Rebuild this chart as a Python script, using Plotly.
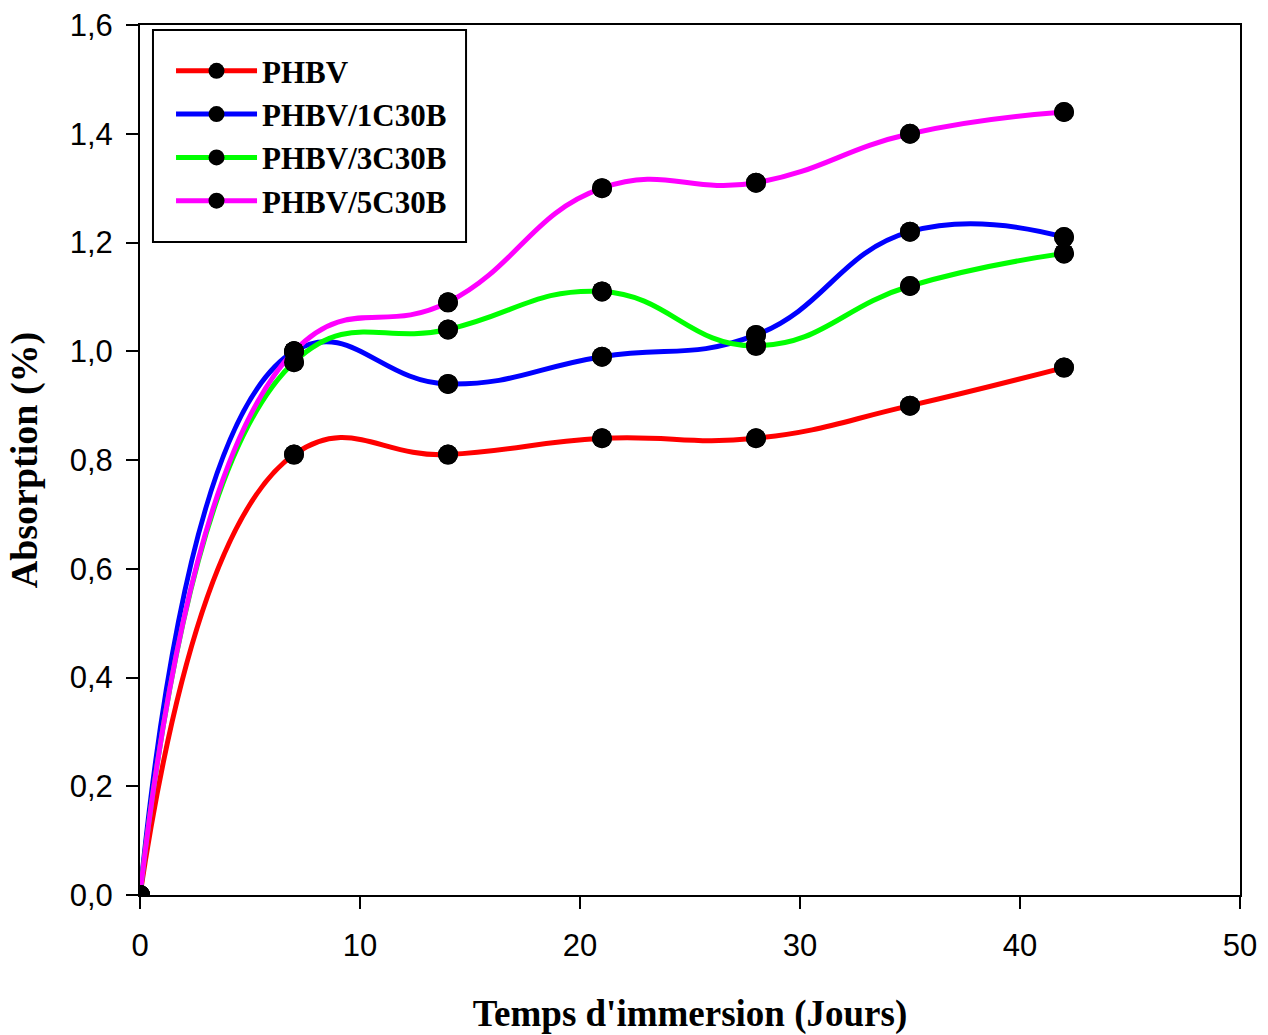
import plotly.graph_objects as go

days = [0, 7, 14, 21, 28, 35, 42]
phbv = [0.0, 0.81, 0.81, 0.84, 0.84, 0.90, 0.97]
phbv_1c30b = [0.0, 1.00, 0.94, 0.99, 1.03, 1.22, 1.21]
phbv_3c30b = [0.0, 0.98, 1.04, 1.11, 1.01, 1.12, 1.18]
phbv_5c30b = [0.0, 1.00, 1.09, 1.30, 1.31, 1.40, 1.44]

names = ["PHBV", "PHBV/1C30B", "PHBV/3C30B", "PHBV/5C30B"]
series = [phbv, phbv_1c30b, phbv_3c30b, phbv_5c30b]
colors = ["#ff0000", "#0000ff", "#00ff00", "#ff00ff"]

x_ticks = [0, 10, 20, 30, 40, 50]
y_ticks = [0.0, 0.2, 0.4, 0.6, 0.8, 1.0, 1.2, 1.4, 1.6]

fig = go.Figure()
for name, ys, c in zip(names, series, colors):
    fig.add_trace(go.Scatter(
        x=days, y=ys, name="<b>" + name + "</b>", mode="lines+markers",
        line=dict(color=c, width=5, shape="spline", smoothing=1.3),
        marker=dict(color="black", size=20),
    ))
for name, ys in zip(names, series):
    fig.add_trace(go.Scatter(
        x=days, y=ys, mode="markers", showlegend=False, hoverinfo="skip",
        marker=dict(color="black", size=20),
    ))

tickfont = dict(family="Liberation Sans, Arial, sans-serif", size=31, color="black")
titlefont = dict(family="Liberation Serif, Times New Roman, serif", size=37, color="black")

# legend frame
fig.add_shape(type="rect", xref="paper", yref="paper",
              x0=0.0118, x1=0.2964, y0=0.7506, y1=0.9943,
              line=dict(color="black", width=2), fillcolor="white", layer="above")

fig.update_layout(
    width=1268, height=1035,
    margin=dict(l=140, r=28, t=25, b=140),
    paper_bgcolor="white", plot_bgcolor="white",
    separators=", ",
    showlegend=True,
    legend=dict(
        x=0.0282, y=0.978, xanchor="left", yanchor="top",
        borderwidth=0, bgcolor="rgba(0,0,0,0)",
        font=dict(family="Liberation Serif, Times New Roman, serif", size=31, color="black"),
        tracegroupgap=0, itemwidth=81,
    ),
    xaxis=dict(
        range=[0, 50], tickvals=x_ticks, ticks="outside", ticklen=12, tickwidth=2,
        tickcolor="black", showline=True, linecolor="black", linewidth=2, mirror=True,
        showgrid=False, zeroline=False, tickfont=tickfont, ticklabelstandoff=10,
        automargin=False,
        title=dict(text="<b>Temps d'immersion (Jours)</b>", font=titlefont, standoff=40),
    ),
    yaxis=dict(
        range=[0, 1.6], tickvals=y_ticks, tickformat=".1f", ticks="outside", ticklen=12,
        tickwidth=2, tickcolor="black", showline=True, linecolor="black", linewidth=2,
        mirror=True, showgrid=False, zeroline=False, tickfont=tickfont, ticklabelstandoff=7,
        automargin=False,
        title=dict(text="<b>Absorption (%)</b>", font=dict(family="Liberation Serif, Times New Roman, serif", size=38, color="black"), standoff=20),
    ),
)

fig.write_html("out.html")
